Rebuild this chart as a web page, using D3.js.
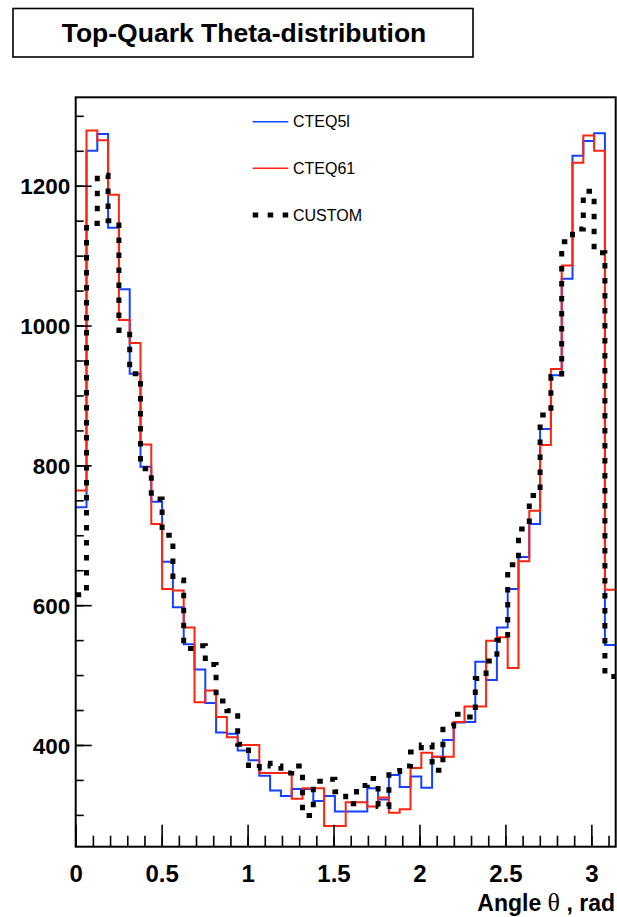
<!DOCTYPE html>
<html>
<head>
<meta charset="utf-8">
<script src="https://cdn.jsdelivr.net/npm/d3@7"></script>
<style>
  html, body { margin: 0; padding: 0; background: #fff; }
  svg { display: block; }
  text { font-family: "Liberation Sans", Arial, Helvetica, sans-serif; }
</style>
</head>
<body>
<svg id="chart" width="617" height="917"></svg>
<script>
// ---------------- data ----------------
const nBins = 50;
const xMin = 0, xMax = Math.PI;
const binEdges = d3.range(nBins + 1).map(i => xMin + i * (xMax - xMin) / nBins);

const cteq5l = [740,1250,1274,1140,1052,931,798,748,662,597,544,508,460,418,416,392,378,356,335,327,337,337,320,327,305,305,305,338,322,357,340,355,339,383,407,432,433,519,493,568,623,669,716,852,929,1067,1243,1264,1275,543];
const cteq61 = [764,1279,1265,1187,1008,975,830,716,623,621,568,461,478,440,411,400,400,360,360,360,323,338,338,284,284,318,318,312,325,303,308,367,389,383,383,433,455,455,549,554,510,663,735,829,938,1086,1233,1272,1250,622];
const custom = [615,1146,1215,1150,993,931,795,752,700,636,538,542,515,463,449,401,367,374,370,360,370,299,348,351,333,316,342,352,312,362,370,390,400,364,427,444,440,495,520,550,658,709,757,872,927,1120,1138,1192,1104,498];

const seriesNames = ["CTEQ5l", "CTEQ61", "CUSTOM"];
const xMajorTicks = [0, 0.5, 1, 1.5, 2, 2.5, 3];
const xMinorTicks = d3.range(0, 32).map(i => i / 10);
const yMajorTicks = [400, 600, 800, 1000, 1200];
const yMinorTicks = d3.range(300, 1301, 50);
const yDomain = [254.5, 1326.5];
const titleText = "Top-Quark Theta-distribution";

// ---------------- layout ----------------
const svg = d3.select("#chart");
const L = 75.7, R = 615.7, T = 97.3, B = 846.7;

const x = d3.scaleLinear().domain([xMin, xMax]).range([L, R]);
const y = d3.scaleLinear().domain(yDomain).range([B, T]);

// title box
svg.append("rect").attr("x", 13).attr("y", 8.5).attr("width", 460).attr("height", 48.5)
  .attr("fill", "#fff").attr("stroke", "#000").attr("stroke-width", 1.6);
svg.append("text").attr("x", 244).attr("y", 42).attr("text-anchor", "middle")
  .attr("font-weight", "bold").attr("font-size", 26.5).text(titleText);

// clip
svg.append("clipPath").attr("id", "plotclip").append("rect")
  .attr("x", L).attr("y", T).attr("width", R - L).attr("height", B - T);

// histograms
function histPoints(vals) {
  const pts = vals.map((v, i) => [binEdges[i], v]);
  pts.push([binEdges[nBins], vals[nBins - 1]]);
  return pts;
}
const line = d3.line().x(d => x(d[0])).y(d => y(d[1])).curve(d3.curveStepAfter);

const g = svg.append("g").attr("clip-path", "url(#plotclip)");
const styles = [
  {data: cteq5l, color: "#1440ff", width: 2, dash: null},
  {data: cteq61, color: "#ff2410", width: 2, dash: null},
  {data: custom, color: "#000", width: 5, dash: "5.5,9.5"}
];
styles.forEach(s => {
  g.append("path").attr("d", line(histPoints(s.data)))
    .attr("fill", "none").attr("stroke", s.color).attr("stroke-width", s.width)
    .attr("stroke-dasharray", s.dash).attr("stroke-linejoin", "miter");
});

// axes
const fontAxis = "Liberation Sans, Arial, Helvetica, sans-serif";
const xMinor = d3.axisBottom(x).tickValues(xMinorTicks).tickSize(-11).tickSizeOuter(0).tickFormat("");
const xMajor = d3.axisBottom(x).tickValues(xMajorTicks).tickSize(-22).tickSizeOuter(0)
  .tickFormat(d => String(d));
const gxm = svg.append("g").attr("transform", `translate(0,${B})`).call(xMinor);
const gx = svg.append("g").attr("transform", `translate(0,${B})`).call(xMajor);
[gxm, gx].forEach(a => { a.select(".domain").remove(); a.selectAll("line").attr("stroke", "#000").attr("stroke-width", 1.6); });
gx.selectAll("text").attr("y", 35).attr("dy", null).attr("fill", "#000")
  .attr("font-size", 24).attr("font-weight", "bold").attr("font-family", fontAxis);

const yMinor = d3.axisLeft(y).tickValues(yMinorTicks).tickSize(-8).tickSizeOuter(0).tickFormat("");
const yMajor = d3.axisLeft(y).tickValues(yMajorTicks).tickSize(-16).tickSizeOuter(0).tickFormat(d => String(d));
const gym = svg.append("g").attr("transform", `translate(${L},0)`).call(yMinor);
const gy = svg.append("g").attr("transform", `translate(${L},0)`).call(yMajor);
[gym, gy].forEach(a => { a.select(".domain").remove(); a.selectAll("line").attr("stroke", "#000").attr("stroke-width", 1.6); });
gy.selectAll("text").attr("x", -5.5).attr("dy", "0.36em").attr("fill", "#000")
  .attr("font-size", 22.5).attr("font-weight", "bold").attr("font-family", fontAxis);

// frame
svg.append("rect").attr("x", L).attr("y", T).attr("width", R - L).attr("height", B - T)
  .attr("fill", "none").attr("stroke", "#000").attr("stroke-width", 2);

// axis title
const xt = svg.append("text").attr("x", 615).attr("y", 911).attr("text-anchor", "end")
  .attr("font-size", 23).attr("font-weight", "bold");
xt.append("tspan").text("Angle ");
xt.append("tspan").attr("font-family", "Liberation Serif, Times New Roman, serif").attr("font-weight", "normal")
  .attr("font-size", 26).text("θ");
xt.append("tspan").text(" , rad");

// legend
const legY = [121.7, 168.3, 215];
const leg = svg.append("g");
styles.forEach((s, i) => {
  leg.append("line").attr("x1", 252.7).attr("x2", 288.3).attr("y1", legY[i]).attr("y2", legY[i])
    .attr("stroke", s.color).attr("stroke-width", s.width === 5 ? 5 : 1.6)
    .attr("stroke-dasharray", s.dash);
  leg.append("text").attr("x", 293).attr("y", legY[i] + 5.6).attr("font-size", 16)
    .attr("fill", "#000").text(seriesNames[i]);
});
</script>
</body>
</html>
